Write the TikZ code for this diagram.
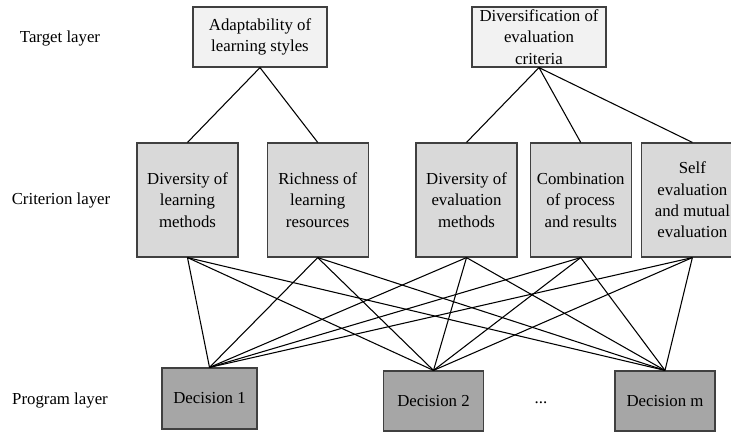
\documentclass[tikz,border=0pt]{standalone}
\usepackage{fontspec}
\setmainfont{Liberation Serif}
\usetikzlibrary{positioning}

\begin{document}
\begin{tikzpicture}[x=0.75pt,y=-0.75pt,line width=0.8pt,
		font=\fontsize{12.6}{16}\selectfont]
		\tikzstyle{box}=[draw=black!75,line width=0.9pt,align=center,inner sep=0pt]
		\tikzstyle{target}=[box,fill=black!5,minimum width=100.5pt,minimum height=45pt]
		\tikzstyle{criterion}=[box,fill=black!15,minimum width=75.75pt,minimum height=85.5pt]
		\tikzstyle{decision}=[box,fill=black!35,minimum width=75pt,minimum height=45pt]
		\tikzstyle{layer}=[inner sep=0pt]
		
		\useasboundingbox (0,0) rectangle (731,432);
		
		\node[layer]     (L_t) at (60,38)   {Target layer};
		\node[layer]     (L_c) at (61,200)  {Criterion layer};
		\node[layer]     (L_p) at (60,400)  {Program layer};
		
		\node[target]    (T_1) at (260,37)  {Adaptability of\\learning styles};
		\node[target]    (T_2) at (539,37)  {Diversification of\\evaluation\\criteria};
		
		\node[criterion] (C_1) at (187.5,200) {Diversity of\\learning\\methods};
		\node[criterion] (C_2) [right=21pt of C_1] {Richness of\\learning\\resources};
		\node[criterion] (C_3) at (466.5,200) {Diversity of\\evaluation\\methods};
		\node[criterion] (C_4) [right=9pt of C_3] {Combination\\of process\\and results};
		\node[criterion] (C_5) [right=7.1pt of C_4] {Self\\evaluation\\and mutual\\evaluation};
		
		\node[decision, minimum width=71.25pt, minimum height=45.75pt] (D_1) at (209.5,398.5) {Decision 1};
		\node[decision]  (D_2) at (433.5,401) {Decision 2};
		\node[decision]  (D_m) at (665,401)   {Decision m};
		\node[layer]     (dots) at (541,403)  {...};
		
		\path (T_1.south) edge (C_1.north)
		      (T_1.south) edge (C_2.north)
		      (T_2.south) edge (C_3.north)
		      (T_2.south) edge (C_4.north)
		      (T_2.south) edge (C_5.north);
		
		\path (C_1.south) edge (D_1.north) edge (D_2.north) edge (D_m.north)
		      (C_2.south) edge (D_1.north) edge (D_2.north) edge (D_m.north)
		      (C_3.south) edge (D_1.north) edge (D_2.north) edge (D_m.north)
		      (C_4.south) edge (D_1.north) edge (D_2.north) edge (D_m.north)
		      (C_5.south) edge (D_1.north) edge (D_2.north) edge (D_m.north);
\end{tikzpicture}
\end{document}
